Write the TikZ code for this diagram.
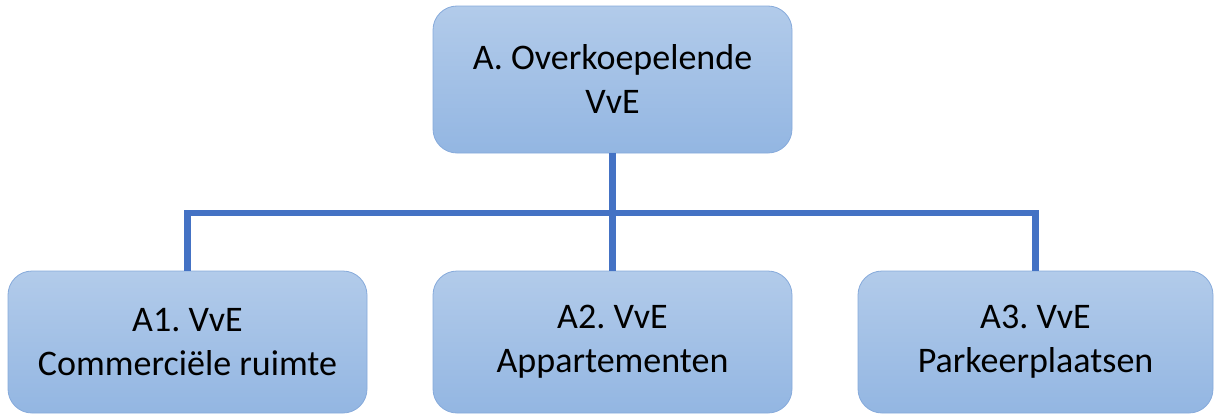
\documentclass[tikz,border=0pt]{standalone}
\usepackage{fontspec}
\setmainfont{Carlito}
\definecolor{boxtop}{HTML}{B2CBEA}
\definecolor{boxbot}{HTML}{93B6E2}
\definecolor{boxline}{HTML}{86AADB}
\definecolor{conn}{HTML}{4472C4}
\frenchspacing
\begin{document}
\begin{tikzpicture}[x=1pt,y=-1pt,
  orgbox/.style={draw=boxline, line width=0.8pt, rounded corners=24pt,
    top color=boxtop, bottom color=boxbot, minimum width=359pt,
    align=center, font=\fontsize{36}{44}\selectfont\frenchspacing, text=black, inner sep=0pt},
  link/.style={draw=conn, line width=6.5pt}]
\useasboundingbox (0,0) rectangle (1215,415);
\node[orgbox, minimum height=147pt] (top) at (612.5,79.5) {A. Overkoepelende\\VvE};
\node[orgbox, minimum height=142pt] (a1) at (187.5,342) {A1. VvE\\Commerciële ruimte};
\node[orgbox, minimum height=142pt] (a2) at (612.5,342) {A2. VvE\\Appartementen};
\node[orgbox, minimum height=142pt, minimum width=355pt] (a3) at (1035.5,342) {A3. VvE\\Parkeerplaatsen};
\coordinate (bus) at (612.5,213);
\draw[link] (top.south) -- (bus);
\draw[link] (bus) -| (a1.north);
\draw[link] (bus) -| (a3.north);
\draw[link] (bus) -- (a2.north);
\end{tikzpicture}
\end{document}
